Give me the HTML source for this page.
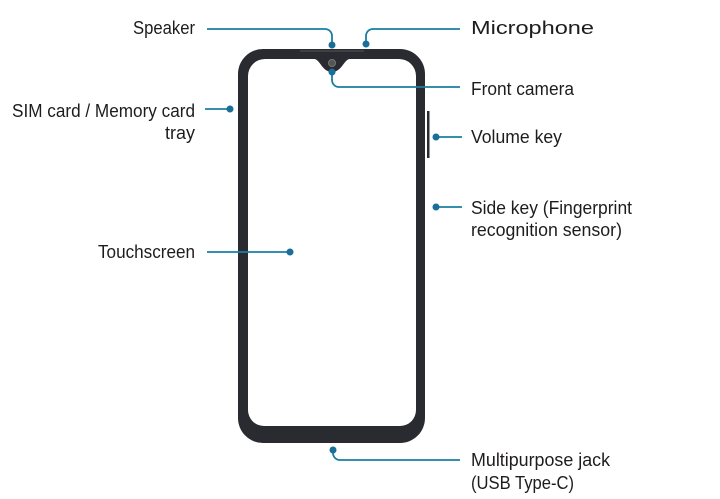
<!DOCTYPE html>
<html><head><meta charset="utf-8"><style>
html,body{margin:0;padding:0;background:#fff;}
svg{display:block;}
text{font-family:"Liberation Sans",sans-serif;font-size:18px;fill:#1f1c1d;}
</style></head><body>
<svg width="720" height="499" viewBox="0 0 720 499" xmlns="http://www.w3.org/2000/svg">
<path fill-rule="evenodd" fill="#2a2b31" d="M263,49 H400 A25,25 0 0 1 425,74 V418 A25,25 0 0 1 400,443 H263 A25,25 0 0 1 238,418 V74 A25,25 0 0 1 263,49 Z
M265,59 H314 C320,59 322,72 332,72 C342,72 344,59 350,59 H399 A17,17 0 0 1 416,76 V410 A16,16 0 0 1 400,426 H264 A16,16 0 0 1 248,410 V76 A17,17 0 0 1 265,59 Z"/>
<circle cx="332" cy="63" r="3.5" fill="#555" stroke="#777" stroke-width="1"/>
<line x1="300" y1="51" x2="364" y2="51" stroke="#555" stroke-width="1"/>
<rect x="427" y="111" width="2.5" height="47" fill="#2a2b31"/>
<g stroke="#1a7fa0" stroke-width="1.8" fill="none">
<path d="M207,29 H325 A7,7 0 0 1 332,36 V45"/>
<path d="M366,44 V36 A7,7 0 0 1 373,29 H460"/>
<path d="M332,72 V80 A7,7 0 0 0 339,87 H460"/>
<path d="M333,450 V453 A7,7 0 0 0 340,460 H460"/>
<path d="M205,109 H230"/>
<path d="M207,252 H290"/>
<path d="M436,137 H462"/>
<path d="M436,207 H462"/>
</g>
<g fill="#1a6f99">
<circle cx="332" cy="45" r="3.5"/><circle cx="366" cy="44" r="3.5"/>
<circle cx="332" cy="72" r="3.5"/><circle cx="333" cy="450" r="3.5"/>
<circle cx="230" cy="109" r="3.5"/><circle cx="290" cy="252" r="3.5"/>
<circle cx="436" cy="137" r="3.5"/><circle cx="436" cy="207" r="3.5"/>
</g>
<text x="133" y="34" textLength="62" lengthAdjust="spacingAndGlyphs">Speaker</text>
<text x="12" y="117" textLength="183" lengthAdjust="spacingAndGlyphs">SIM card / Memory card</text>
<text x="165" y="139" textLength="30" lengthAdjust="spacingAndGlyphs">tray</text>
<text x="98" y="258" textLength="97" lengthAdjust="spacingAndGlyphs">Touchscreen</text>
<text x="471" y="34" textLength="123" lengthAdjust="spacingAndGlyphs">Microphone</text>
<text x="471" y="95" textLength="103" lengthAdjust="spacingAndGlyphs">Front camera</text>
<text x="471" y="143" textLength="91" lengthAdjust="spacingAndGlyphs">Volume key</text>
<text x="471" y="214" textLength="161" lengthAdjust="spacingAndGlyphs">Side key (Fingerprint</text>
<text x="471" y="236" textLength="151" lengthAdjust="spacingAndGlyphs">recognition sensor)</text>
<text x="471" y="466" textLength="139" lengthAdjust="spacingAndGlyphs">Multipurpose jack</text>
<text x="471" y="489" textLength="103" lengthAdjust="spacingAndGlyphs">(USB Type-C)</text>
</svg>
</body></html>
